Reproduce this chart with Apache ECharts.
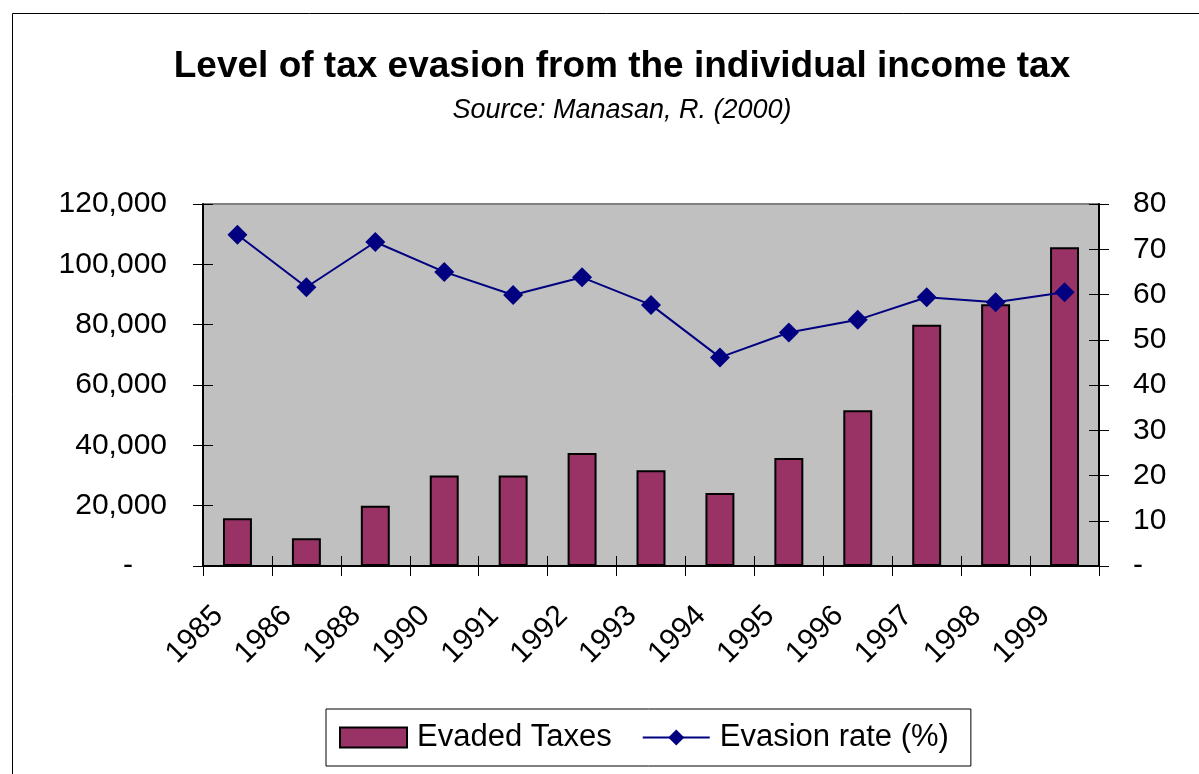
<!DOCTYPE html>
<html>
<head>
<meta charset="utf-8">
<script src="https://cdn.jsdelivr.net/npm/echarts@6/dist/echarts.min.js"></script>
<style>
html,body{margin:0;padding:0;background:#fff;}
#chart{width:1199px;height:774px;}
</style>
</head>
<body>
<div id="chart"></div>
<script>
var years = ['1985','1986','1988','1990','1991','1992','1993','1994','1995','1996','1997','1998','1999'];
var evadedTaxes = [15800, 9200, 20000, 30000, 30000, 37500, 31700, 24200, 35800, 51600, 80000, 86800, 105700];
var evasionRate = [73.2, 61.6, 71.6, 65.0, 59.9, 63.8, 57.7, 46.1, 51.6, 54.4, 59.4, 58.3, 60.5];
var leftTicks = [0, 20000, 40000, 60000, 80000, 100000, 120000];
var rightTicks = [0, 10, 20, 30, 40, 50, 60, 70, 80];

var FONT = '"Liberation Sans", Arial, sans-serif';
var chart = echarts.init(document.getElementById('chart'));

function fmtLeft(v) {
  if (v === 0) return '{z|-}';
  return v.toString().replace(/\B(?=(\d{3})+(?!\d))/g, ',');
}
function fmtRight(v) {
  if (v === 0) return '-';
  return String(v);
}

var option = {
  backgroundColor: '#ffffff',
  animation: false,
  graphic: [{
    type: 'rect',
    shape: {x: 12.5, y: 13.5, width: 1300, height: 900},
    style: {fill: 'none', stroke: '#000', lineWidth: 1},
    silent: true
  }],
  title: [{
    text: 'Level of tax evasion from the individual income tax',
    left: 617, textAlign: 'center', top: 43,
    textStyle: {fontFamily: FONT, fontSize: 37, fontWeight: 'bold', color: '#000'}
  }, {
    text: 'Source: Manasan, R. (2000)',
    left: 617, textAlign: 'center', top: 92,
    textStyle: {fontFamily: FONT, fontSize: 27, fontStyle: 'italic', fontWeight: 'normal', color: '#000'}
  }],
  legend: {
    left: 326, top: 709,
    padding: [13, 22, 13, 13],
    borderColor: '#000', borderWidth: 1,
    itemWidth: 67, itemHeight: 20,
    itemGap: 30,
    textStyle: {fontFamily: FONT, fontSize: 31, color: '#000', padding: [0, 0, 0, 5]},
    data: [
      {name: 'Evaded Taxes', icon: 'rect'},
      {name: 'Evasion rate (%)'}
    ]
  },
  grid: {
    left: 203, right: 100, top: 204, bottom: 208,
    show: true, backgroundColor: '#C0C0C0', borderColor: '#808080', borderWidth: 2
  },
  xAxis: [{
    type: 'category', data: years, position: 'bottom',
    boundaryGap: true,
    axisLine: {show: true, onZero: false, lineStyle: {color: '#000', width: 2}},
    axisTick: {show: true, alignWithLabel: false, length: 10, lineStyle: {color: '#000', width: 1}},
    axisLabel: {
      rotate: 45, margin: 26, interval: 0,
      fontFamily: FONT, fontSize: 30, color: '#000',
      padding: [0, 27, 0, 0]
    },
    splitLine: {show: false}
  }, {
    type: 'category', data: years, position: 'bottom',
    boundaryGap: true,
    axisLine: {show: false, onZero: false},
    axisTick: {show: true, inside: true, length: 10, lineStyle: {color: '#000', width: 1}},
    axisLabel: {show: false},
    splitLine: {show: false}
  }],
  yAxis: [{
    type: 'value', position: 'left', min: 0, max: 120000, interval: 20000,
    axisLine: {show: true, lineStyle: {color: '#000', width: 2}},
    axisTick: {show: true, length: 10, lineStyle: {color: '#000', width: 1}},
    axisLabel: {
      margin: 36, fontFamily: FONT, fontSize: 30, color: '#000',
      formatter: fmtLeft,
      rich: {z: {fontFamily: FONT, fontSize: 30, color: '#000', padding: [0, 34, 0, 0]}}
    },
    splitLine: {show: false}
  }, {
    type: 'value', position: 'right', min: 0, max: 80, interval: 10,
    axisLine: {show: true, lineStyle: {color: '#000', width: 2}},
    axisTick: {show: true, length: 10, lineStyle: {color: '#000', width: 1}},
    axisLabel: {margin: 34, fontFamily: FONT, fontSize: 30, color: '#000', formatter: fmtRight},
    splitLine: {show: false}
  }, {
    type: 'value', position: 'left', min: 0, max: 120000, interval: 20000,
    axisLine: {show: false},
    axisTick: {show: true, inside: true, length: 10, lineStyle: {color: '#000', width: 1}},
    axisLabel: {show: false},
    splitLine: {show: false}
  }, {
    type: 'value', position: 'right', min: 0, max: 80, interval: 10,
    axisLine: {show: false},
    axisTick: {show: true, inside: true, length: 10, lineStyle: {color: '#000', width: 1}},
    axisLabel: {show: false},
    splitLine: {show: false}
  }],
  series: [{
    name: 'Evaded Taxes', type: 'bar', xAxisIndex: 0, yAxisIndex: 0,
    data: evadedTaxes, barWidth: '42%',
    itemStyle: {color: '#993366', borderColor: '#000', borderWidth: 2}
  }, {
    name: 'Evasion rate (%)', type: 'line', xAxisIndex: 0, yAxisIndex: 1,
    data: evasionRate,
    symbol: 'diamond', symbolSize: 20,
    lineStyle: {color: '#000080', width: 2},
    itemStyle: {color: '#000080'}
  }]
};
chart.setOption(option);
</script>
</body>
</html>
